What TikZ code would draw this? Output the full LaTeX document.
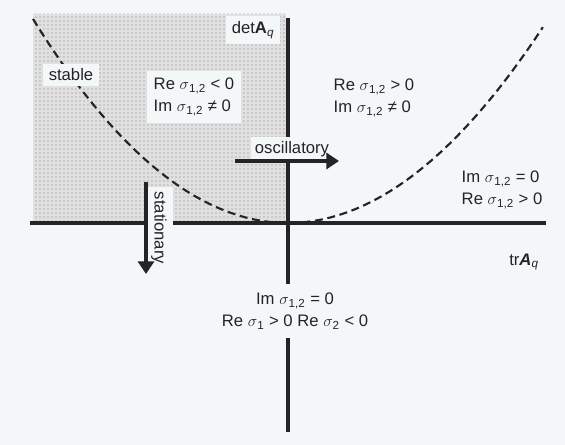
\documentclass[tikz,border=0pt]{standalone}
\usepackage{fontspec}
\setmainfont{Liberation Sans}
\usepackage{tikz}
\usetikzlibrary{arrows.meta, positioning, patterns}
\definecolor{pagebg}{RGB}{244, 247, 248}
\definecolor{inkdark}{RGB}{35, 35, 40}
\newcommand{\sgm}{$\sigma$}

\begin{document}
\begin{tikzpicture}[
  x=0.75pt, y=-0.75pt,
  every node/.style={font=\fontsize{12.5}{16.5}\selectfont, text=inkdark},
  lbl/.style={fill=pagebg, inner sep=3pt, align=left},
  axis/.style={line width=3pt, inkdark},
  curve/.style={line width=1.6pt, inkdark, dash pattern=on 6pt off 3.5pt},
  arr/.style={-{Triangle[length=9.5pt, width=12pt]}, line width=3pt, inkdark}
]
\useasboundingbox (0,0) rectangle (565,445);
\fill[pagebg] (0,0) rectangle (565,445);

% stable region
\fill[black!12] (33,14) rectangle (286,223);
\fill[pattern=dots, pattern color=black!50] (33,14) rectangle (286,223);

% axes
\coordinate (xL) at (30,223);
\coordinate (xR) at (546,223);
\coordinate (yT) at (288,18);
\coordinate (yB) at (288,432);
\draw[axis] (xL) -- (xR);
\draw[axis] (yT) -- (yB);

% boundary det = tr^2/4
\draw[curve] plot[domain=-1:1, samples=61] ({288+255*\x}, {223-(200-4*\x)*\x*\x});

% labels
\node[lbl, inner sep=4pt] (det) at (253,30) {det\textbf{A}\textsubscript{\textit{q}}};
\node[lbl] (tr) at (524,262) {tr\textbf{\textit{A}}\textsubscript{\textit{q}}};
\node[lbl, inner sep=4pt] (stable) at (71,75) {stable};
\node[lbl, inner sep=5pt] (upleft) at (194,97)
  {Re \sgm\textsubscript{1,2} < 0\\Im \sgm\textsubscript{1,2} ≠ 0};
\node[lbl] (upright) at (374,98)
  {Re \sgm\textsubscript{1,2} > 0\\Im \sgm\textsubscript{1,2} ≠ 0};
\node[lbl] (lowright) at (502,190)
  {Im \sgm\textsubscript{1,2} = 0\\Re \sgm\textsubscript{1,2} > 0};
\node[lbl, align=center, inner xsep=3pt, inner ysep=7pt] (lowmid) at (295,311)
  {Im \sgm\textsubscript{1,2} = 0\\Re \sgm\textsubscript{1} > 0 Re \sgm\textsubscript{2} < 0};
\node[lbl, inner sep=3pt] (osc) at (292,149) {oscillatory};
\node[lbl, rotate=-90, inner xsep=4pt, inner ysep=5pt] (stat) at (159,228) {stationary};

% transitions
\coordinate (oscA) at (235,161);
\coordinate (oscB) at (339,161);
\coordinate (statA) at (146,182);
\coordinate (statB) at (146,274);
\draw[arr] (oscA) -- (oscB);
\draw[arr] (statA) -- (statB);
\end{tikzpicture}
\end{document}
